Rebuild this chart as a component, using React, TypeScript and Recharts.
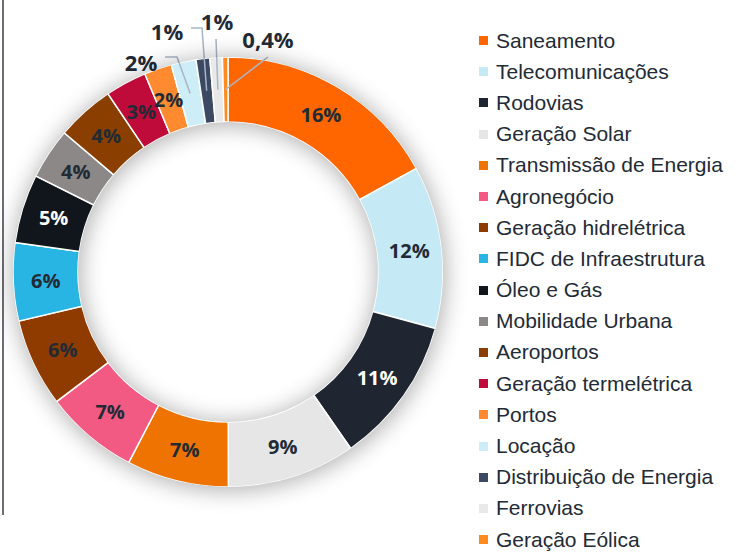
import React from "react";
import { PieChart, Pie, Cell, Legend } from "recharts";

const sectors = [
  "Saneamento",
  "Telecomunicações",
  "Rodovias",
  "Geração Solar",
  "Transmissão de Energia",
  "Agronegócio",
  "Geração hidrelétrica",
  "FIDC de Infraestrutura",
  "Óleo e Gás",
  "Mobilidade Urbana",
  "Aeroportos",
  "Geração termelétrica",
  "Portos",
  "Locação",
  "Distribuição de Energia",
  "Ferrovias",
  "Geração Eólica",
];

const shares = [16.4, 11.8, 10.7, 9.3, 7.4, 6.8, 6.4, 5.65, 5.0, 3.7, 4.2, 3.0, 2.0, 1.8, 1.0, 0.9, 0.4];

const shareLabels = ["16%", "12%", "11%", "9%", "7%", "7%", "6%", "6%", "5%", "4%", "4%", "3%", "2%", "2%", "1%", "1%", "0,4%"];

const colors = [
  "#FF6600",
  "#C5E9F5",
  "#1F2631",
  "#E6E6E6",
  "#EE7300",
  "#F35A83",
  "#8F3B00",
  "#29B5E3",
  "#11161D",
  "#8C8888",
  "#8A3F00",
  "#BE0B3A",
  "#FF8A2F",
  "#CDEDF7",
  "#3B4A62",
  "#E9E9E9",
  "#FF8A1F",
];

const data = sectors.map((name, i) => ({ name, value: shares[i], label: shareLabels[i] }));

const CX = 228;
const CY = 272;
const INNER = 150;
const OUTER = 215;
const TEXT = "#222A35";
const LEADER = "#A8B6C8";

// Leader-line layout for the small slices (offsets from the pie centre)
const outside: Record<number, { pts: [number, number][]; text: [number, number] }> = {
  13: { pts: [[-51, -215], [-63, -215]], text: [-87, -210] },
  14: { pts: [[-26, -244], [-37, -244]], text: [-61, -241] },
  15: { pts: [[-12, -233]], text: [-11, -251] },
  16: { pts: [[40, -215]], text: [40, -233] },
};

const whiteLabel = new Set([2, 8]);

const RAD = Math.PI / 180;

const renderLabel = (props: any) => {
  const { cx, cy, midAngle, innerRadius, outerRadius, index } = props;
  const r = (innerRadius + outerRadius) / 2;
  const ax = cx + r * Math.cos(-midAngle * RAD);
  const ay = cy + r * Math.sin(-midAngle * RAD);
  const lbl = data[index].label;
  const o = outside[index];
  if (o) {
    const pts = [[ax, ay], ...o.pts.map(([dx, dy]) => [cx + dx, cy + dy])];
    return (
      <g key={`l-${index}`}>
        <polyline
          points={pts.map((p) => p.join(",")).join(" ")}
          fill="none"
          stroke={LEADER}
          strokeWidth={1.5}
        />
        <text
          x={cx + o.text[0]}
          y={cy + o.text[1]}
          textAnchor="middle"
          dominantBaseline="central"
          fontFamily="'Open Sans', sans-serif"
          fontWeight={700}
          fontSize={22}
          fill={TEXT}
        >
          {lbl}
        </text>
      </g>
    );
  }
  return (
    <text
      key={`l-${index}`}
      x={ax}
      y={ay}
      textAnchor="middle"
      dominantBaseline="central"
      fontFamily="'Open Sans', sans-serif"
      fontWeight={700}
      fontSize={20}
      fill={whiteLabel.has(index) ? "#FFFFFF" : TEXT}
    >
      {lbl}
    </text>
  );
};

const LegendList = () => (
  <div style={{ fontFamily: "'Liberation Sans', Arial, sans-serif", fontSize: 21, color: TEXT }}>
    {sectors.map((s, i) => (
      <div key={s} style={{ display: "flex", alignItems: "center", height: 31.2, whiteSpace: "nowrap" }}>
        <span
          style={{
            display: "inline-block",
            width: 9,
            height: 9,
            background: colors[i],
            marginRight: 8,
          }}
        />
        <span>{s}</span>
      </div>
    ))}
  </div>
);

export default function App() {
  return (
    <div style={{ position: "absolute", left: 0, top: 0, width: 739, height: 552, background: "#fff" }}>
      <div style={{ position: "absolute", left: 2, top: 0, width: 2, height: 515, background: "#6B6E72" }} />
      <PieChart
        width={739}
        height={552}
        margin={{ top: 0, right: 0, bottom: 0, left: 0 }}
        style={{ position: "absolute", left: 0, top: 0 }}
      >
        <Pie
          data={data}
          dataKey="value"
          nameKey="name"
          cx={CX}
          cy={CY}
          innerRadius={INNER}
          outerRadius={OUTER}
          startAngle={90}
          endAngle={-270}
          stroke="#FFFFFF"
          strokeWidth={1.5}
          isAnimationActive={false}
          labelLine={false}
          label={renderLabel}
        >
          {data.map((d, i) => (
            <Cell key={d.name} fill={colors[i]} />
          ))}
        </Pie>
        <Legend
          layout="vertical"
          verticalAlign="top"
          align="right"
          wrapperStyle={{ left: 479, top: 25, width: 260 }}
          content={() => <LegendList />}
        />
      </PieChart>
      {/* soft shadow around the ring: outer shadow is drawn only outside the circle, inset only inside the hole */}
      <div
        style={{
          position: "absolute",
          left: CX - OUTER,
          top: CY - OUTER,
          width: OUTER * 2,
          height: OUTER * 2,
          borderRadius: "50%",
          pointerEvents: "none",
          boxShadow: "1px 2px 22px 2px rgba(0,0,0,0.3)",
        }}
      />
      <div
        style={{
          position: "absolute",
          left: CX - INNER,
          top: CY - INNER,
          width: INNER * 2,
          height: INNER * 2,
          borderRadius: "50%",
          pointerEvents: "none",
          boxShadow: "inset 1px 2px 22px 2px rgba(0,0,0,0.3)",
        }}
      />
    </div>
  );
}
